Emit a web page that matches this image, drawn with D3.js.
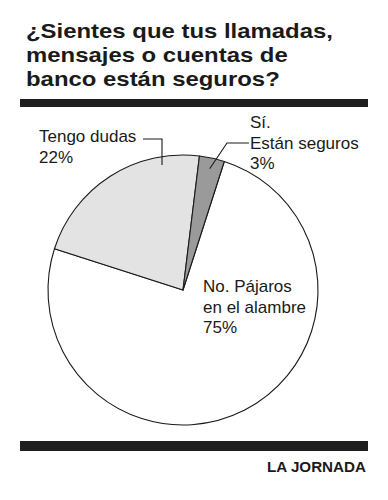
<!DOCTYPE html>
<html>
<head>
<meta charset="utf-8">
<script src="https://cdn.jsdelivr.net/npm/d3@7"></script>
<style>
  html, body { margin: 0; padding: 0; background: #fff; }
  svg { display: block; }
  text { font-family: "Liberation Sans", Arial, Helvetica, sans-serif; fill: #1a1a1a; }
</style>
</head>
<body>
<script>
// ---- data ----
const titleLines = ["¿Sientes que tus llamadas,", "mensajes o cuentas de", "banco están seguros?"];
const categories = ["No. Pájaros en el alambre", "Tengo dudas", "Sí. Están seguros"];
const values = [75, 22, 3];
const labelLines = [
  ["No. Pájaros", "en el alambre", "75%"],
  ["Tengo dudas", "22%"],
  ["Sí.", "Están seguros", "3%"]
];
const sliceColors = ["#ffffff", "#e3e3e3", "#9a9a9a"];
const source = "LA JORNADA";

// ---- layout ----
const W = 388, H = 500;
const cx = 183, cy = 290, R = 135;
const startDeg = 17.8;

const svg = d3.select("body").append("svg").attr("width", W).attr("height", H);

// title: separate lines, widened horizontally to match the reference's wide bold face
const titleG = svg.append("g");
const tl = titleLines.map((t, i) =>
  titleG.append("text").attr("x", 0).attr("y", 38 + i * 24)
    .style("font-size", "20.5px").style("font-weight", "bold").text(t));
const maxLen = d3.max(tl, t => t.node().getComputedTextLength());
const sx = 307 / maxLen;
titleG.attr("transform", `translate(26,0) scale(${sx},1)`);

// bars
svg.append("rect").attr("x", 20).attr("y", 99).attr("width", 348).attr("height", 8).attr("fill", "#1e1e1e");
svg.append("rect").attr("x", 20).attr("y", 441).attr("width", 348).attr("height", 10).attr("fill", "#1e1e1e");

// pie
const pie = d3.pie().sort(null).value(d => d)
  .startAngle(startDeg * Math.PI / 180)
  .endAngle(startDeg * Math.PI / 180 + 2 * Math.PI);
const arcs = pie(values);
const arc = d3.arc().innerRadius(0).outerRadius(R);

const g = svg.append("g").attr("transform", `translate(${cx},${cy})`);
g.selectAll("path").data(arcs).join("path")
  .attr("d", arc)
  .attr("fill", (d, i) => sliceColors[i])
  .attr("stroke", "#1a1a1a")
  .attr("stroke-width", 1.1)
  .attr("stroke-linejoin", "round");

function pointAt(a, rFrac) {
  const ang = (a.startAngle + a.endAngle) / 2;
  return [cx + Math.sin(ang) * R * rFrac, cy - Math.cos(ang) * R * rFrac];
}
const si = arcs[2];
// Tengo dudas leader
svg.append("path")
  .attr("d", `M143,139 H162 V165`)
  .attr("fill", "none").attr("stroke", "#1a1a1a").attr("stroke-width", 1.1);
// Sí leader
const sp = pointAt(si, 0.92);
svg.append("path")
  .attr("d", `M249,143 H227 L${sp[0]},${sp[1]}`)
  .attr("fill", "none").attr("stroke", "#1a1a1a").attr("stroke-width", 1.1);

// labels
const labelPos = [
  { x: 203, y: 292 },
  { x: 39, y: 142 },
  { x: 250, y: 128 }
];
labelLines.forEach((lines, i) => {
  const t = svg.append("text").style("font-size", "17px");
  lines.forEach((l, j) => {
    t.append("tspan").attr("x", labelPos[i].x).attr("y", labelPos[i].y + j * 20.5).text(l);
  });
});

// source
svg.append("text").attr("x", 366).attr("y", 472).attr("text-anchor", "end")
  .style("font-size", "15.2px").style("font-weight", "bold").text(source);
</script>
</body>
</html>
